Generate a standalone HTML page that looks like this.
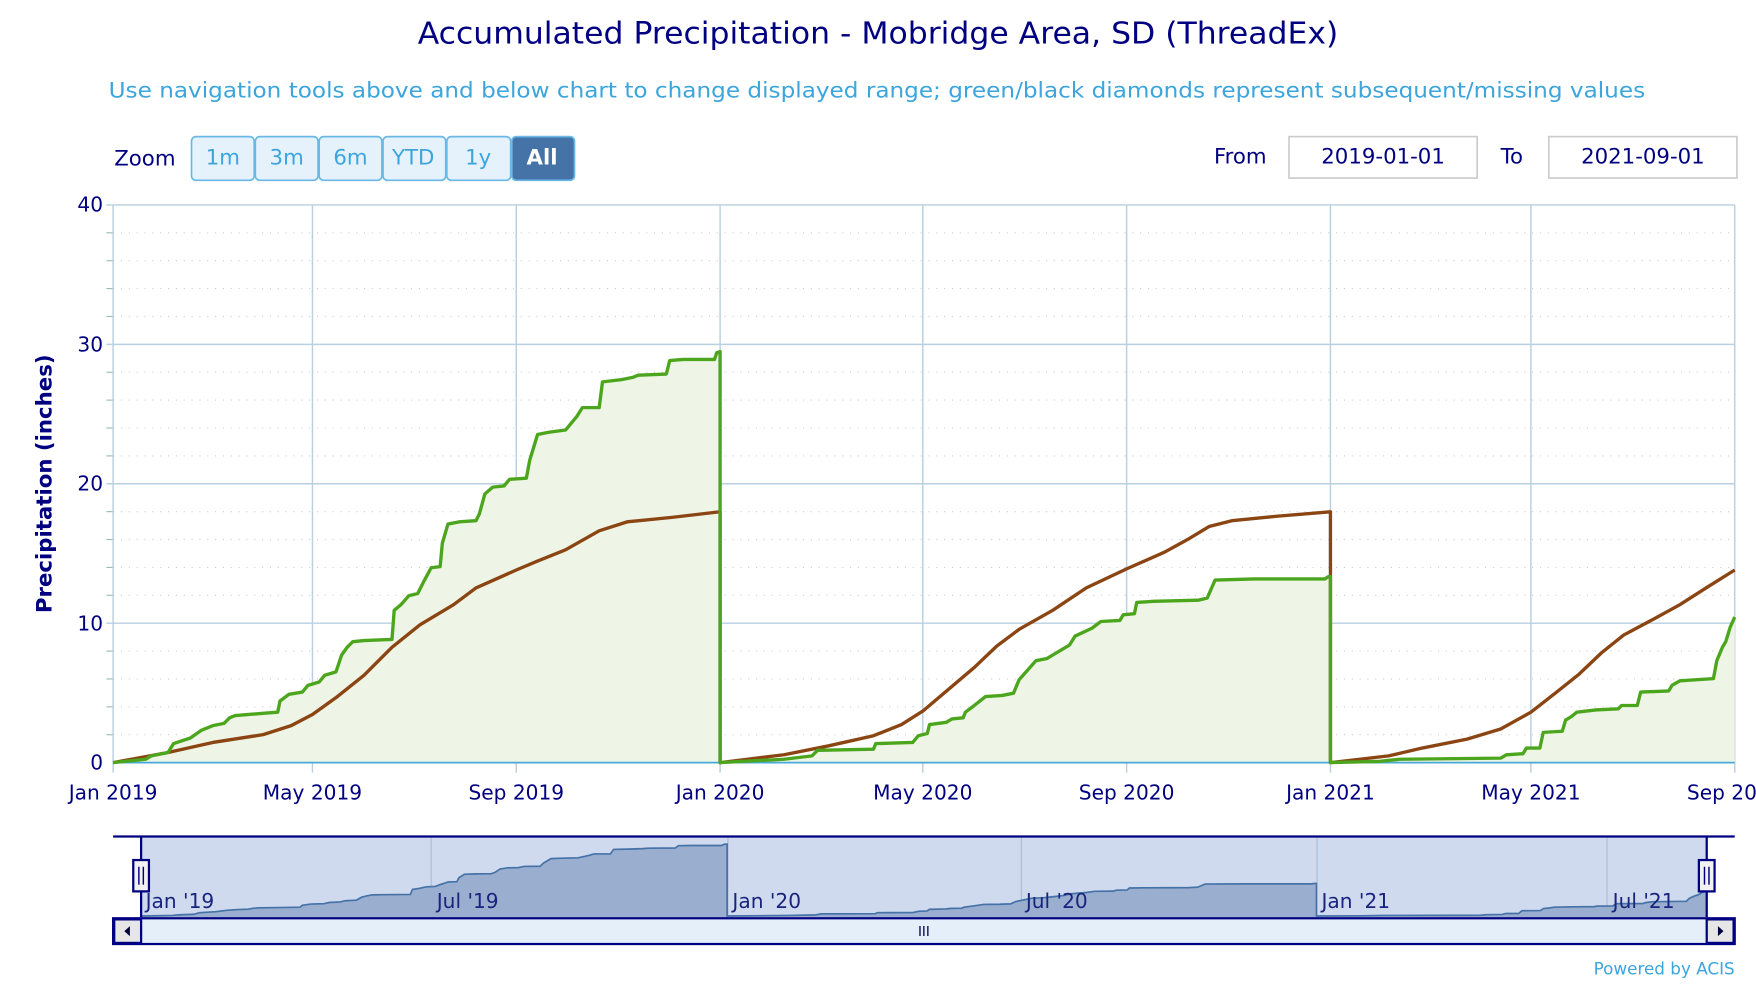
<!DOCTYPE html>
<html><head><meta charset="utf-8"><style>
html,body{margin:0;padding:0;background:#fff;width:1756px;height:984px;overflow:hidden}
svg{display:block}
text{font-family:"DejaVu Sans","Liberation Sans",sans-serif}
</style></head><body>
<svg id="s" width="1756" height="984" viewBox="0 0 1568 878.7" preserveAspectRatio="none" xmlns="http://www.w3.org/2000/svg">
<rect width="1568" height="879" fill="#fff"/>
<text x="784" y="39" text-anchor="middle" font-size="27" fill="#000080" textLength="822" lengthAdjust="spacingAndGlyphs">Accumulated Precipitation - Mobridge Area, SD (ThreadEx)</text>
<text x="783" y="87" text-anchor="middle" font-size="19" fill="#3ba5dc" textLength="1372" lengthAdjust="spacingAndGlyphs">Use navigation tools above and below chart to change displayed range; green/black diamonds represent subsequent/missing values</text>
<text x="102" y="148" font-size="19" fill="#000080">Zoom</text>
<g font-size="19" text-anchor="middle" fill="#3ba5dc">
<rect x="171" y="122" width="56" height="39" rx="4" fill="#e6f2fb" stroke="#6ab8e6" stroke-width="1.5"/><text x="199" y="147">1m</text>
<rect x="228" y="122" width="56" height="39" rx="4" fill="#e6f2fb" stroke="#6ab8e6" stroke-width="1.5"/><text x="256" y="147">3m</text>
<rect x="285" y="122" width="56" height="39" rx="4" fill="#e6f2fb" stroke="#6ab8e6" stroke-width="1.5"/><text x="313" y="147">6m</text>
<rect x="342" y="122" width="56" height="39" rx="4" fill="#e6f2fb" stroke="#6ab8e6" stroke-width="1.5"/><text x="369" y="147">YTD</text>
<rect x="399" y="122" width="57" height="39" rx="4" fill="#e6f2fb" stroke="#6ab8e6" stroke-width="1.5"/><text x="427" y="147">1y</text>
<rect x="457" y="122" width="56" height="39" rx="4" fill="#4572a7" stroke="#6ab8e6" stroke-width="1.5"/><text x="484" y="147" fill="#fff" font-weight="bold">All</text>
</g>
<text x="1084" y="146" font-size="19" fill="#000080">From</text>
<rect x="1151" y="122" width="168" height="37" fill="#fff" stroke="#ccc" stroke-width="1.5"/>
<text x="1235" y="146" font-size="19" fill="#000080" text-anchor="middle">2019-01-01</text>
<text x="1340" y="146" font-size="19" fill="#000080">To</text>
<rect x="1383" y="122" width="168" height="37" fill="#fff" stroke="#ccc" stroke-width="1.5"/>
<text x="1467" y="146" font-size="19" fill="#000080" text-anchor="middle">2021-09-01</text>
<g id="grid"></g>
<g id="series"></g>
<text transform="translate(46,432) rotate(-90)" text-anchor="middle" font-size="19" font-weight="bold" fill="#000080">Precipitation (inches)</text>
<g font-size="18" fill="#000080" text-anchor="end">
<text x="92" y="189">40</text><text x="92" y="314">30</text><text x="92" y="438">20</text><text x="92" y="563">10</text><text x="92" y="687">0</text>
</g>
<g font-size="18" fill="#000080" text-anchor="middle">
<text x="101" y="714">Jan 2019</text><text x="279" y="714">May 2019</text><text x="461" y="714">Sep 2019</text>
<text x="643" y="714">Jan 2020</text><text x="824" y="714">May 2020</text><text x="1006" y="714">Sep 2020</text>
<text x="1188" y="714">Jan 2021</text><text x="1367" y="714">May 2021</text><text x="1549" y="714">Sep 2021</text>
</g>
<g id="nav"></g>
<text x="1549" y="870" text-anchor="end" font-size="15" fill="#3ba5dc">Powered by ACIS</text>
</svg>
<script>
var NS="http://www.w3.org/2000/svg";
function el(p,t,a){var e=document.createElementNS(NS,t);for(var k in a)e.setAttribute(k,a[k]);p.appendChild(e);return e;}
var g=document.getElementById('grid');
for(var v=2;v<40;v+=2){if(v%10==0)continue;var y=681-12.45*v;el(g,'line',{x1:101,x2:1549,y1:y,y2:y,stroke:'#ccd',"stroke-width":1,"stroke-dasharray":"1,6"});el(g,'line',{x1:95,x2:101,y1:y,y2:y,stroke:'#9bb',"stroke-width":1});}
for(var v=10;v<=40;v+=10){var y=681-12.45*v;el(g,'line',{x1:95,x2:1549,y1:y,y2:y,stroke:'#b8d0e0',"stroke-width":1.3});}
[279,461,643,824,1006,1188,1367,1549].forEach(function(x){el(g,'line',{x1:x,x2:x,y1:183,y2:690,stroke:'#b8d0e0',"stroke-width":1.3});});
el(g,'line',{x1:101,x2:101,y1:183,y2:690,stroke:'#b8d0e0',"stroke-width":1.3});
var G=[[101,681],[130,678],[135,675],[150,672],[155,664],[170,659],[180,652],[190,648],[200,646],[205,641],[210,639],[235,637],[248,636],[250,626],[258,620],[270,618],[275,612],[285,609],[290,603],[300,600],[305,585],[310,578],[315,573],[325,572],[350,571],[352,545],[358,540],[365,532],[373,530],[378,520],[385,507],[393,506],[395,485],[400,468],[410,466],[425,465],[428,459],[433,441],[440,435],[450,434],[455,428],[470,427],[473,411],[480,388],[490,386],[505,384],[510,378],[515,372],[520,364],[535,364],[538,341],[555,339],[565,337],[570,335],[595,334],[598,322],[610,321],[638,321],[640,315],[643,314],[643,681],
[700,678],[725,675],[730,670],[780,669],[782,664],[815,663],[820,657],[828,655],[830,647],[845,645],[850,642],[860,641],[862,636],[870,630],[880,622],[895,621],[905,619],[910,607],[918,598],[925,590],[935,588],[945,582],[955,576],[960,568],[975,561],[983,555],[1000,554],[1003,549],[1013,548],[1015,538],[1030,537],[1070,536],[1078,534],[1085,518],[1120,517],[1183,517],[1186,515],[1188,515],[1188,681],
[1230,680],[1250,678],[1340,677],[1345,674],[1360,673],[1363,668],[1375,668],[1378,654],[1395,653],[1398,643],[1403,640],[1408,636],[1425,634],[1445,633],[1448,630],[1462,630],[1465,618],[1490,617],[1493,612],[1500,608],[1530,606],[1533,590],[1538,578],[1541,573],[1545,560],[1549,551]];
var B=[[101,681],[150,672],[190,663],[235,656],[260,648],[279,638],[300,623],[325,603],[350,578],[375,558],[405,540],[425,525],[461,509],[480,501],[505,491],[535,474],[560,466],[600,462],[643,457],[643,681],
[700,674],[740,666],[780,657],[805,647],[824,635],[850,613],[870,596],[890,577],[910,562],[940,545],[970,525],[1006,508],[1040,493],[1060,482],[1080,470],[1100,465],[1140,461],[1188,457],[1188,681],
[1240,675],[1270,668],[1310,660],[1340,651],[1367,636],[1390,618],[1410,602],[1430,583],[1450,567],[1480,551],[1500,540],[1525,524],[1549,509]];
function pts(a){return a.map(function(p){return p[0]+','+p[1]}).join(' ');}
var s=document.getElementById('series');
el(s,'polygon',{points:pts(G)+' 1549,681',fill:'#eef5e6'});
el(s,'line',{x1:101,x2:1549,y1:681,y2:681,stroke:'#4aa8d8',"stroke-width":1.5});
el(s,'polyline',{points:pts(B),fill:'none',stroke:'#8b4513',"stroke-width":3,"stroke-linejoin":"round"});
el(s,'polyline',{points:pts(G),fill:'none',stroke:'#4ca61d',"stroke-width":3,"stroke-linejoin":"round"});
// navigator
var n=document.getElementById('nav');
el(n,'rect',{x:126,y:747,width:1398,height:72,fill:'#d0daee'});
[385,650,912,1176,1435].forEach(function(x){el(n,'line',{x1:x,x2:x,y1:747,y2:819,stroke:'#a8bcd8',"stroke-width":1});});
var NG=G.map(function(p){return [126+(p[0]-101)*0.9655,818-(681-p[1])*0.175];});
el(n,'polygon',{points:pts(NG)+' 1524,819 126,819',fill:'#9aaed0'});
el(n,'polyline',{points:pts(NG),fill:'none',stroke:'#4572a7',"stroke-width":1.5});
var lab=[[130,"Jan '19"],[390,"Jul '19"],[654,"Jan '20"],[916,"Jul '20"],[1180,"Jan '21"],[1440,"Jul '21"]];
lab.forEach(function(l){var t=el(n,'text',{x:l[0],y:811,"font-size":18,fill:'#1a237e'});t.textContent=l[1];});
el(n,'line',{x1:101,x2:1549,y1:747,y2:747,stroke:'#000080',"stroke-width":2});
el(n,'line',{x1:126,x2:126,y1:747,y2:819,stroke:'#000080',"stroke-width":2});
el(n,'line',{x1:1524,x2:1524,y1:747,y2:819,stroke:'#000080',"stroke-width":2});
el(n,'rect',{x:101,y:820,width:1448,height:23,fill:'#e4effa',stroke:'#000080',"stroke-width":2});
el(n,'rect',{x:102,y:821,width:24,height:21,fill:'#e6e6e6',stroke:'#000080',"stroke-width":2});
el(n,'rect',{x:1524,y:821,width:24,height:21,fill:'#e6e6e6',stroke:'#000080',"stroke-width":2});
el(n,'polygon',{points:'116,827 111,831.5 116,836',fill:'#000040'});
el(n,'polygon',{points:'1534,827 1539,831.5 1534,836',fill:'#000040'});
var t=el(n,'text',{x:825,y:836,"font-size":12,"text-anchor":"middle",fill:'#000040'});t.textContent='III';
[126,1524].forEach(function(x){el(n,'rect',{x:x-7,y:768,width:14,height:28,fill:'#f2f2f2',stroke:'#000080',"stroke-width":2});
el(n,'line',{x1:x-2,x2:x-2,y1:774,y2:790,stroke:'#000080',"stroke-width":1.3});el(n,'line',{x1:x+2,x2:x+2,y1:774,y2:790,stroke:'#000080',"stroke-width":1.3});});
</script>
</body></html>
